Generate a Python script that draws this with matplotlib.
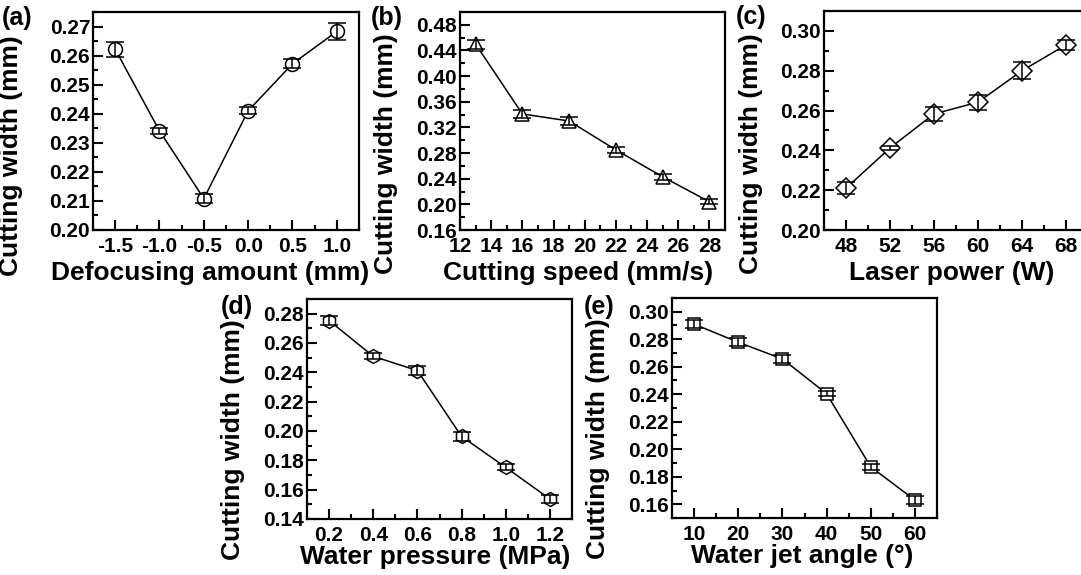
"""Cutting width vs. five process parameters, five-panel figure."""

import matplotlib
matplotlib.use("Agg")
import matplotlib.pyplot as plt
from matplotlib.ticker import MultipleLocator, FormatStrFormatter

plt.rcParams["font.family"] = ["Liberation Sans", "DejaVu Sans"]
plt.rcParams["font.weight"] = "bold"
plt.rcParams["axes.labelweight"] = "bold"

W, H = 1081, 575

# ---- data ----
defocus = [-1.5, -1.0, -0.5, 0.0, 0.5, 1.0]
width_a = [0.2622, 0.2341, 0.2108, 0.2410, 0.2572, 0.2683]
err_a = [0.0026, 0.0010, 0.0015, 0.0012, 0.0015, 0.0028]

speed = [13, 16, 19, 22, 25, 28]
width_b = [0.450, 0.341, 0.330, 0.285, 0.243, 0.204]
err_b = [0.007, 0.006, 0.006, 0.005, 0.005, 0.004]

power = [48, 52, 56, 60, 64, 68]
width_c = [0.2210, 0.2412, 0.2583, 0.2642, 0.2800, 0.2930]
err_c = [0.0030, 0.0010, 0.0033, 0.0037, 0.0042, 0.0025]

pressure = [0.2, 0.4, 0.6, 0.8, 1.0, 1.2]
width_d = [0.2753, 0.2509, 0.2412, 0.1963, 0.1752, 0.1536]
err_d = [0.003, 0.002, 0.003, 0.003, 0.002, 0.003]

angle = [10, 20, 30, 40, 50, 60]
width_e = [0.2910, 0.2778, 0.2657, 0.2404, 0.1872, 0.1630]
err_e = [0.003, 0.003, 0.003, 0.002, 0.002, 0.003]

# box = axes (left, top, right, bottom) in px; yly = ylabel centre as axes fraction
PANELS = [
    dict(tag="(a)", x=defocus, y=width_a, e=err_a, m="o", ms=10,
         xlabel="Defocusing amount (mm)", xlim=(-1.75, 1.25), xmaj=0.5, xmin=0.25,
         xfmt="%.1f", ylim=(0.20, 0.275), ymaj=0.01, ymin=0.005,
         box=(93, 12, 359, 230), tagpos=(2, 18), ylx=-0.263, yly=0.34,
         xlx=0.44, xly=-0.14),
    dict(tag="(b)", x=speed, y=width_b, e=err_b, m="^", ms=10,
         xlabel="Cutting speed (mm/s)", xlim=(12, 29), xmaj=2, xmin=1,
         xfmt="%d", ylim=(0.16, 0.50), ymaj=0.04, ymin=0.02,
         box=(460, 12, 725, 230), tagpos=(371, 18), ylx=-0.234, yly=0.35,
         xlx=0.445, xly=-0.14),
    dict(tag="(c)", x=power, y=width_c, e=err_c, m="D", ms=10,
         xlabel="Laser power (W)", xlim=(46, 70), xmaj=4, xmin=2,
         xfmt="%d", ylim=(0.20, 0.31), ymaj=0.02, ymin=0.01,
         box=(824, 11, 1088, 230), tagpos=(736, 17), ylx=-0.231, yly=0.35,
         xlx=0.485, xly=-0.14),
    dict(tag="(d)", x=pressure, y=width_d, e=err_d, m="h", ms=10,
         xlabel="Water pressure (MPa)", xlim=(0.1, 1.3), xmaj=0.2, xmin=0.1,
         xfmt="%.1f", ylim=(0.14, 0.29), ymaj=0.02, ymin=0.01,
         box=(307, 299, 572, 519), tagpos=(221, 307), ylx=-0.234, yly=0.36,
         xlx=0.485, xly=-0.12),
    dict(tag="(e)", x=angle, y=width_e, e=err_e, m="s", ms=9,
         xlabel="Water jet angle (\u00b0)", xlim=(5, 65), xmaj=10, xmin=5,
         xfmt="%d", ylim=(0.15, 0.31), ymaj=0.02, ymin=0.01,
         box=(672, 298, 937, 518), tagpos=(584, 307), ylx=-0.234, yly=0.36,
         xlx=0.49, xly=-0.12),
]


def draw_panel(fig, p):
    l, t, r, b = p["box"]
    ax = fig.add_axes([l / W, 1 - b / H, (r - l) / W, (b - t) / H])
    ax.plot(p["x"], p["y"], color="black", lw=1.1, marker=p["m"], ms=p["ms"],
            mfc="white", mec="black", mew=1.1, zorder=2)
    ax.errorbar(p["x"], p["y"], yerr=p["e"], fmt="none", ecolor="black",
                elinewidth=1.1, capsize=6.5, capthick=1.1, zorder=3)

    ax.set_xlim(*p["xlim"])
    ax.set_ylim(*p["ylim"])
    ax.xaxis.set_major_locator(MultipleLocator(p["xmaj"]))
    ax.xaxis.set_minor_locator(MultipleLocator(p["xmin"]))
    ax.yaxis.set_major_locator(MultipleLocator(p["ymaj"]))
    ax.yaxis.set_minor_locator(MultipleLocator(p["ymin"]))
    ax.xaxis.set_major_formatter(FormatStrFormatter(p["xfmt"]))
    ax.yaxis.set_major_formatter(FormatStrFormatter("%.2f"))

    for s in ax.spines.values():
        s.set_linewidth(1.6)
    ax.tick_params(which="both", direction="in", top=False, right=False,
                   width=1.5, labelsize=15)
    ax.tick_params(which="major", length=7)
    ax.tick_params(which="minor", length=3.5)
    ax.tick_params(axis="x", pad=5)
    ax.tick_params(axis="y", pad=2)

    ax.set_ylabel("Cutting width (mm)", fontsize=19)
    ax.set_xlabel(p["xlabel"], fontsize=19, va="top")
    ax.yaxis.set_label_coords(p["ylx"], p["yly"])
    ax.xaxis.set_label_coords(p["xlx"], p["xly"])

    tx, ty = p["tagpos"]
    fig.text(tx / W, 1 - ty / H, p["tag"], fontsize=18, fontweight="bold",
             ha="left", va="center")
    return ax


def main():
    fig = plt.figure(figsize=(W / 100, H / 100), dpi=100)
    for p in PANELS:
        draw_panel(fig, p)
    fig.savefig("out.png", dpi=100)


if __name__ == "__main__":
    main()
